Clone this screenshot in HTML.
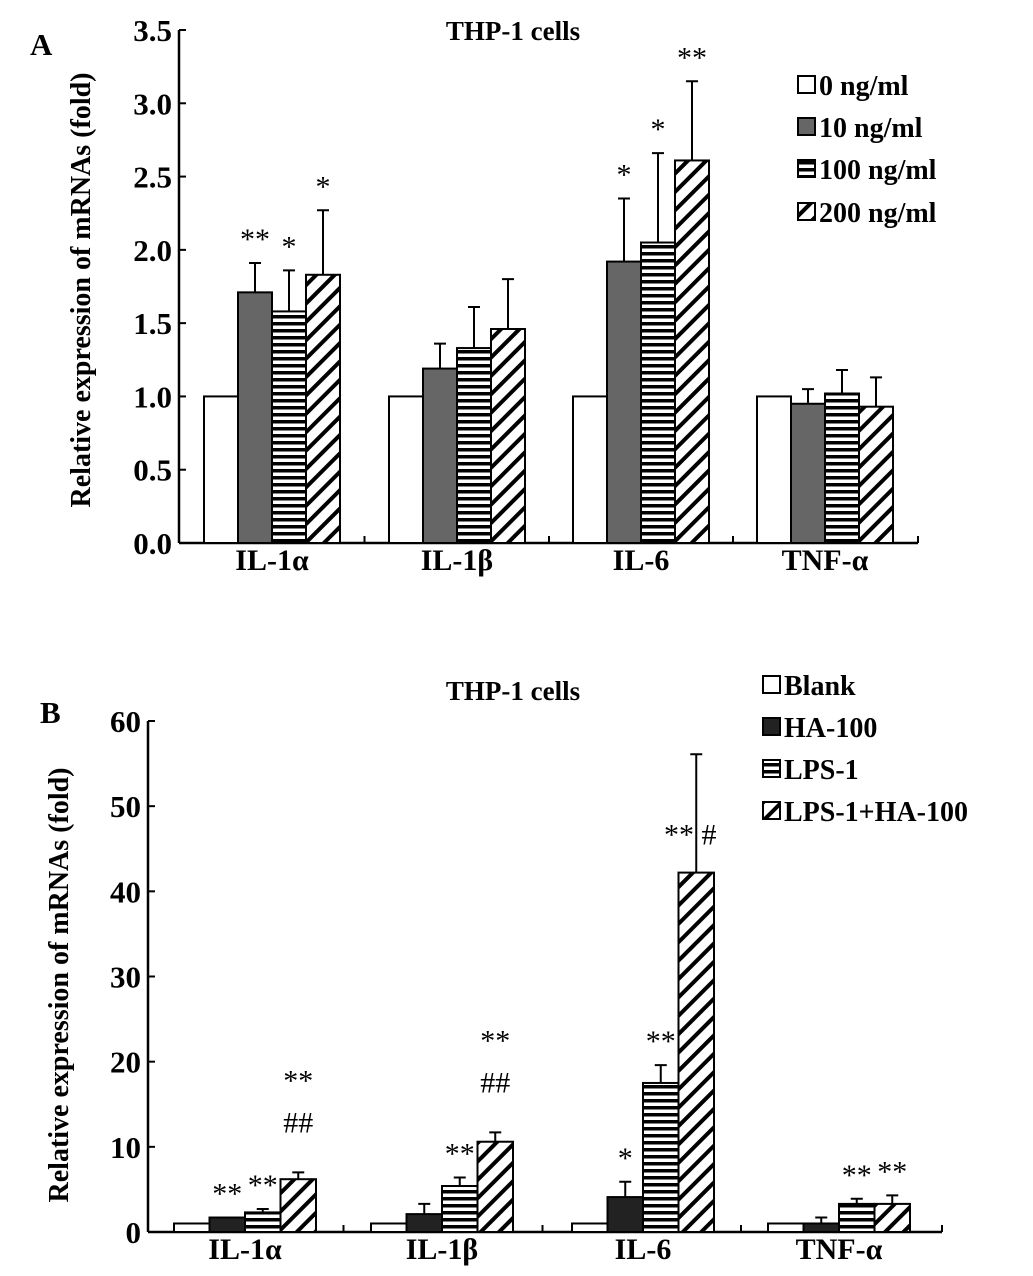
<!DOCTYPE html>
<html><head><meta charset="utf-8"><style>
html,body{margin:0;padding:0;background:#fff;}
svg{display:block;font-family:"Liberation Serif",serif;font-weight:bold;}
</style></head><body>
<svg id="fig" width="1033" height="1276" viewBox="0 0 1033 1276" xmlns="http://www.w3.org/2000/svg">
<defs>
<pattern id="hstripe" patternUnits="userSpaceOnUse" width="8" height="7"><rect width="8" height="7" fill="#fff"/><rect y="0" width="8" height="3.5" fill="#000"/></pattern>
<pattern id="diag" patternUnits="userSpaceOnUse" width="13" height="13" patternTransform="rotate(45)"><rect width="13" height="13" fill="#fff"/><rect x="0" y="0" width="4" height="13" fill="#000"/></pattern>
</defs>
<g id="chartA"></g>
<g id="chartB"></g>
</svg>
<script>
const categories = ["IL-1\u03b1","IL-1\u03b2","IL-6","TNF-\u03b1"];
// Panel A
const seriesA = ["0 ng/ml","10 ng/ml","100 ng/ml","200 ng/ml"];
const valuesA = [[1,1,1,1],[1.71,1.19,1.92,0.95],[1.58,1.33,2.05,1.02],[1.83,1.46,2.61,0.93]];
const errTopA = [[1,1,1,1],[1.91,1.36,2.35,1.05],[1.86,1.61,2.66,1.18],[2.27,1.80,3.15,1.13]];
const sigA = [["","","",""],["**","","*",""],["*","","*",""],["*","","**",""]];
const ticksA = ["0.0","0.5","1.0","1.5","2.0","2.5","3.0","3.5"];
const tickValsA = [0,0.5,1,1.5,2,2.5,3,3.5];
// Panel B
const seriesB = ["Blank","HA-100","LPS-1","LPS-1+HA-100"];
const valuesB = [[1,1,1,1],[1.7,2.1,4.1,1.0],[2.3,5.4,17.5,3.3],[6.2,10.6,42.2,3.3]];
const errTopB = [[1,1,1,1],[1.7,3.3,5.9,1.7],[2.7,6.4,19.6,3.9],[7.0,11.7,56.1,4.3]];
const sigB = [["","","",""],["**","","*",""],["**","**","**","**"],["##","##","** #","**"]];
const sig2B = [["","","",""],["","","",""],["","","",""],["**","**","",""]];
const ticksB = ["0","10","20","30","40","50","60"];
const tickValsB = [0,10,20,30,40,50,60];

const NS="http://www.w3.org/2000/svg";
function mk(parent,tag,attrs,text){const e=document.createElementNS(NS,tag);for(const k in attrs)e.setAttribute(k,attrs[k]);if(text!==undefined)e.textContent=text;parent.appendChild(e);return e;}
const fills=["#fff",null,"url(#hstripe)","url(#diag)"];

function draw(g,cfg){
  const y=v=>cfg.y0-(v/cfg.vmax)*(cfg.y0-cfg.yTop);
  const ax=mk(g,"line",{x1:cfg.ax,y1:y(cfg.vmax),x2:cfg.ax,y2:cfg.y0,stroke:"#000","stroke-width":2.5});
  
  
  const xl=mk(g,"line",{x1:cfg.ax,y1:cfg.y0,x2:cfg.axEnd,y2:cfg.y0,stroke:"#000","stroke-width":2.5});
  
  
  cfg.tickVals.forEach((v,i)=>{
    const t=mk(g,"line",{x1:cfg.ax,y1:y(v),x2:cfg.ax+7,y2:y(v),stroke:"#000","stroke-width":2});
    
    
    const l=mk(g,"text",{x:cfg.ax-7,y:y(v)+11,"text-anchor":"end","font-size":cfg.tickFs},cfg.ticks[i]);
    
    
  });
  for(let c=1;c<=4;c++){
    const tx=c<4?cfg.gx[c]-(cfg.gx[c]-cfg.gx[c-1]-4*cfg.bw)/2:cfg.axEnd;
    const t=mk(g,"line",{x1:tx,y1:cfg.y0,x2:tx,y2:cfg.y0-7,stroke:"#000","stroke-width":2});
    
    
  }
  categories.forEach((cat,c)=>{
    const l=mk(g,"text",{x:cfg.gx[c]+2*cfg.bw,y:cfg.y0+cfg.catDy,"text-anchor":"middle","font-size":cfg.catFs},cat);
    
    
    for(let s=0;s<4;s++){
      const x=cfg.gx[c]+s*cfg.bw, v=cfg.vals[s][c], et=cfg.err[s][c];
      if(et>v){
        const e=mk(g,"path",{d:`M${x+cfg.bw/2},${y(v)}V${y(et)}M${x+cfg.bw/2-6},${y(et)}H${x+cfg.bw/2+6}`,stroke:"#000","stroke-width":2,fill:"none"});
        
        
      }
      const r=mk(g,"rect",{x:x,y:y(v),width:cfg.bw,height:cfg.y0-y(v),fill:s===1?cfg.c1:fills[s],stroke:"#000","stroke-width":2});
      
      
      const sg=cfg.sig[s][c];
      if(sg){
        let ty=y(Math.max(et,v))-cfg.sigGap, tx=x+cfg.bw/2;
        if(cfg.hashOffset&&sg.indexOf('#')>=0){
          if(sg==="** #"){ty=y(v)-28; tx=x+cfg.bw/2-6;}
          else ty-=26;
        }
        const a=mk(g,"text",{x:tx,y:ty,"text-anchor":"middle","font-size":cfg.sigFs,"font-weight":"normal"},sg);
        
        
        if(cfg.sig2&&cfg.sig2[s][c]){
          const b=mk(g,"text",{x:tx,y:ty-42,"text-anchor":"middle","font-size":cfg.sigFs,"font-weight":"normal"},cfg.sig2[s][c]);
          
          
        }
      }
    }
  });
  cfg.series.forEach((sname,s)=>{
    const ly=cfg.legY[s];
    const bx=mk(g,"rect",{x:cfg.legX,y:ly-9,width:17,height:17,fill:s===1?cfg.c1:fills[s],stroke:"#000","stroke-width":2});
    
    
    const lt=mk(g,"text",{x:cfg.legX+21,y:ly+10,"font-size":cfg.legFs},sname);
    
    
  });
  const ti=mk(g,"text",{x:513,y:cfg.titleY,"text-anchor":"middle","font-size":27},"THP-1 cells");
  
  
  const yt=mk(g,"text",{x:0,y:0,"text-anchor":"middle","font-size":28,transform:`translate(${cfg.ytX},${cfg.ytY}) rotate(-90)`},"Relative expression of mRNAs (fold)");
  
  
  const pl=mk(g,"text",{x:cfg.plX,y:cfg.plY,"font-size":31},cfg.panel);
  
  
}
draw(document.getElementById('chartA'),{ax:179,axEnd:918,y0:543,yTop:30,vmax:3.5,bw:34,gx:[204,389,573,757],
  vals:valuesA,err:errTopA,sig:sigA,series:seriesA,ticks:ticksA,tickVals:tickValsA,c1:"#666",
  tickFs:31,catFs:30,catDy:27,sigFs:30,sigGap:14,legX:798,legY:[85,127,169,212],legFs:28,titleY:40,ytX:90,ytY:290,plX:30,plY:55,panel:"A"});
draw(document.getElementById('chartB'),{ax:148,axEnd:942,y0:1232,yTop:721,vmax:60,bw:35.5,gx:[174,371,572,768],
  vals:valuesB,err:errTopB,sig:sigB,sig2:sig2B,hashOffset:true,series:seriesB,ticks:ticksB,tickVals:tickValsB,c1:"#222",
  tickFs:31,catFs:30,catDy:27,sigFs:30,sigGap:14,legX:763,legY:[685,727,769,811],legFs:28,titleY:700,ytX:68,ytY:985,plX:40,plY:723,panel:"B"});
</script>
</body></html>
